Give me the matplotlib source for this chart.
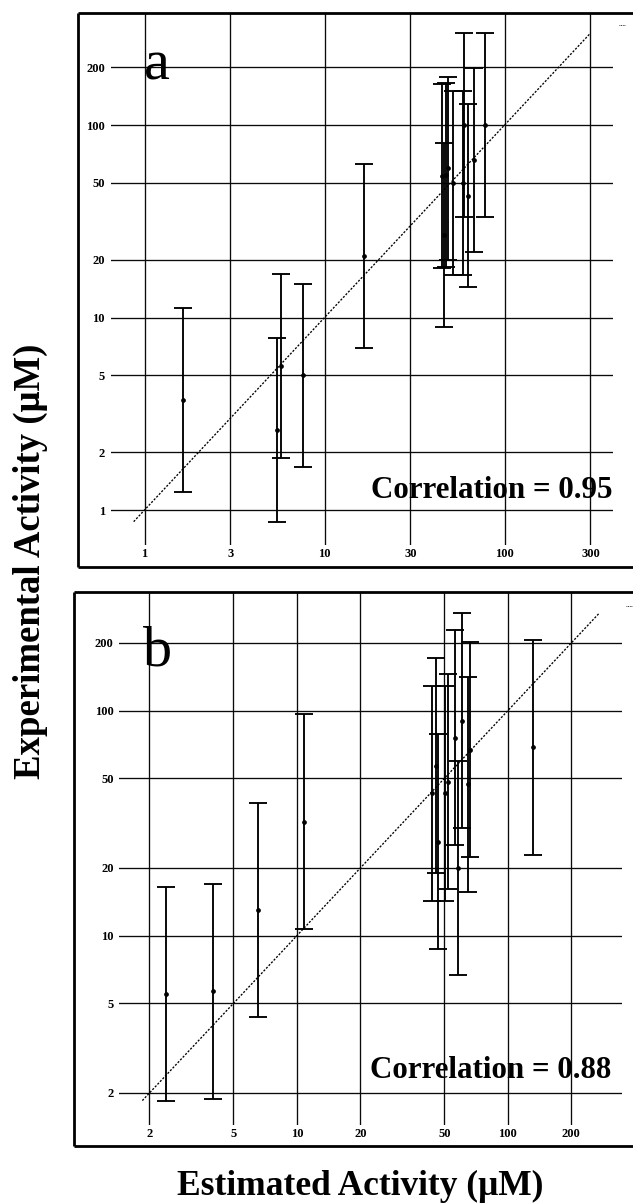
import matplotlib
matplotlib.use("Agg")
import matplotlib.pyplot as plt
from matplotlib.lines import Line2D
import numpy as np

# ---------------- data ----------------
# panel a : estimated vs experimental activity (uM)
est_a = [1.64, 5.44, 5.74, 7.55, 16.6, 45.2, 46.3, 47.1, 48.7, 52.0, 58.6, 59.8, 62.5, 68.0, 77.9]
exp_a = [3.73, 2.61, 5.6, 5.0, 20.9, 54.5, 26.8, 55.0, 59.5, 50.0, 50.0, 100.0, 43.0, 65.7, 100.0]
# panel b
est_b = [2.40, 4.02, 6.55, 10.8, 43.5, 45.7, 46.6, 50.5, 52.3, 56.5, 58.0, 60.4, 65.0, 66.2, 132.0]
exp_b = [5.5, 5.66, 13.0, 32.1, 43.0, 57.0, 26.2, 43.0, 48.3, 76.0, 20.0, 90.3, 47.0, 67.0, 68.7]
err_fold = 3.0            # error bars span value/3 .. value*3
corr_a = "Correlation = 0.95"
corr_b = "Correlation = 0.88"
xticks_a = [1, 3, 10, 30, 100, 300]
yticks_a = [1, 2, 5, 10, 20, 50, 100, 200]
xticks_b = [2, 5, 10, 20, 50, 100, 200]
yticks_b = [2, 5, 10, 20, 50, 100, 200]
diag_a = [0.87, 300]
diag_b = [1.85, 270]
xlim_a, ylim_a = (0.651, 398), (0.658, 382)
xlim_b, ylim_b = (1.442, 348), (1.441, 337)

plt.rcParams['font.family'] = ['Liberation Serif', 'DejaVu Serif']
plt.rcParams['font.weight'] = 'bold'

W, H = 633, 1203
fig = plt.figure(figsize=(W / 100, H / 100), dpi=100)


def fx(p):
    return p / W


def fy(p):
    return 1 - p / H


def frame(left, top, bottom):
    kw = dict(transform=fig.transFigure, color='black', lw=2.0, solid_capstyle='butt')
    fig.add_artist(Line2D([fx(left), 1.0], [fy(top), fy(top)], **kw))
    fig.add_artist(Line2D([fx(left), 1.0], [fy(bottom), fy(bottom)], **kw))
    fig.add_artist(Line2D([fx(left), fx(left)], [fy(top), fy(bottom)], **kw))


def panel(rect_px, xlim, ylim, xt, yt, est, exp, diag, xpad, ypad):
    l, t, r, b = rect_px
    ax = fig.add_axes([fx(l), fy(b), fx(r) - fx(l), fy(t) - fy(b)])
    ax.set_xscale('log')
    ax.set_yscale('log')
    ax.set_xlim(*xlim)
    ax.set_ylim(*ylim)
    for s in ax.spines.values():
        s.set_visible(False)
    ax.set_xticks(xt, labels=[str(v) for v in xt])
    ax.set_yticks(yt, labels=[str(v) for v in yt])
    ax.minorticks_off()
    ax.tick_params(axis='x', length=0, pad=xpad, labelsize=9)
    ax.tick_params(axis='y', length=0, pad=ypad, labelsize=9)
    ax.grid(True, which='major', color='#0a0a0a', lw=0.95)
    ax.set_axisbelow(True)
    est = np.asarray(est)
    exp = np.asarray(exp)
    ax.plot(diag, diag, color='black', lw=0.95, ls=(0, (1.6, 1.2)), zorder=3)
    ax.errorbar(est, exp, yerr=[exp - exp / err_fold, exp * err_fold - exp],
                fmt='o', ms=2.4, color='black', ecolor='black',
                elinewidth=1.35, capsize=6.8, capthick=1.35, zorder=4)
    return ax


frame(78, 13, 567)
frame(74, 592, 1146)

panel((111, 13, 612.5, 545), xlim_a, ylim_a, xticks_a, yticks_a, est_a, exp_a, diag_a, 2.5, 4.3)
panel((119.5, 592, 622, 1125), xlim_b, ylim_b, xticks_b, yticks_b, est_b, exp_b, diag_b, 2.5, 4.3)

fig.text(fx(612.5), fy(498), corr_a, ha='right', va='baseline', fontsize=22.3, fontweight='bold')
fig.text(fx(611), fy(1078), corr_b, ha='right', va='baseline', fontsize=22.3, fontweight='bold')
fig.text(fx(144), fy(79), 'a', ha='left', va='baseline', fontsize=42, fontweight='normal')
fig.text(fx(143), fy(665), 'b', ha='left', va='baseline', fontsize=42, fontweight='normal')

fig.text(fx(30), fy(561), 'Experimental Activity (\u03bcM)', rotation=90,
         ha='center', va='center', fontsize=26.5, fontweight='bold')
fig.text(fx(360), fy(1186), 'Estimated Activity (\u03bcM)',
         ha='center', va='center', fontsize=25.5, fontweight='bold')

# small stray marks at the upper right corners
fig.add_artist(Line2D([fx(619), fx(625)], [fy(25), fy(25)], transform=fig.transFigure,
                      color='black', lw=0.6, ls=(0, (1, 1))))
fig.add_artist(Line2D([fx(626), fx(632)], [fy(606), fy(606)], transform=fig.transFigure,
                      color='black', lw=0.6, ls=(0, (1, 1))))

fig.savefig('out.png', dpi=100)
